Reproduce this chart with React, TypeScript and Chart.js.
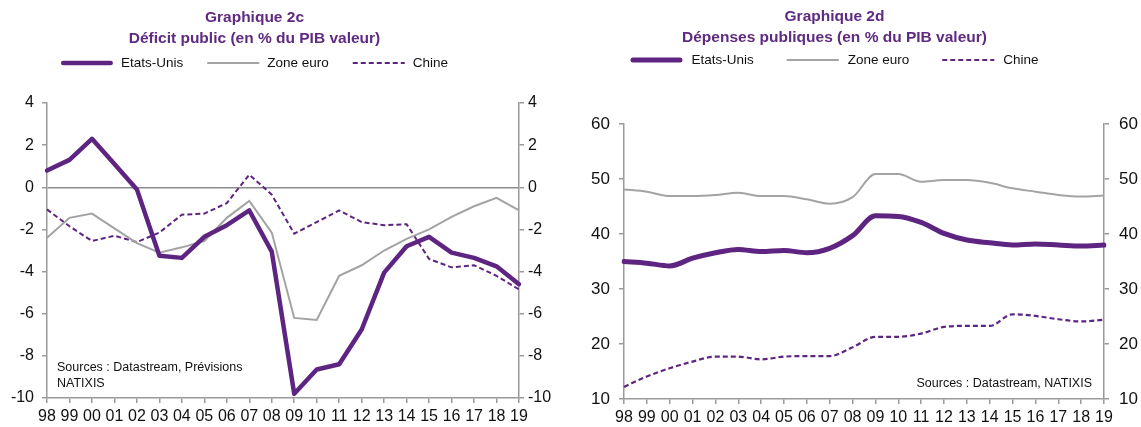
import React, { useEffect, useRef } from "react";
import { Chart, registerables } from "chart.js";

Chart.register(...registerables);

// ---------- data ----------
const years = ["98", "99", "00", "01", "02", "03", "04", "05", "06", "07", "08", "09", "10", "11", "12", "13", "14", "15", "16", "17", "18", "19"];

const seriesLabels = ["Etats-Unis", "Zone euro", "Chine"];

const deficitUS = [0.8, 1.3, 2.3, 1.1, -0.1, -3.25, -3.35, -2.35, -1.8, -1.1, -3.05, -9.8, -8.65, -8.4, -6.75, -4.05, -2.8, -2.35, -3.1, -3.35, -3.75, -4.6];
const deficitEZ = [-2.4, -1.45, -1.25, -1.95, -2.65, -3.1, -2.85, -2.55, -1.45, -0.65, -2.15, -6.2, -6.3, -4.2, -3.7, -3.0, -2.45, -2.0, -1.4, -0.9, -0.5, -1.1];
const deficitCN = [-1.05, -1.85, -2.55, -2.3, -2.6, -2.15, -1.3, -1.25, -0.75, 0.6, -0.35, -2.2, -1.65, -1.1, -1.65, -1.8, -1.75, -3.4, -3.8, -3.7, -4.2, -4.85];

const depUS = [35.0, 34.7, 34.2, 35.6, 36.6, 37.2, 36.8, 37.0, 36.6, 37.4, 39.7, 43.3, 43.2, 42.1, 40.1, 38.9, 38.4, 38.0, 38.2, 38.0, 37.8, 38.0];
const depEZ = [48.1, 47.7, 46.9, 46.9, 47.1, 47.5, 46.9, 46.9, 46.3, 45.5, 46.7, 50.9, 50.9, 49.5, 49.8, 49.8, 49.3, 48.3, 47.7, 47.1, 46.8, 47.0];
const depCN = [12.2, 14.1, 15.6, 16.8, 17.7, 17.7, 17.2, 17.7, 17.8, 17.8, 19.4, 21.3, 21.3, 21.9, 23.1, 23.3, 23.3, 25.4, 25.1, 24.5, 24.1, 24.4];

const deficitTicks = [-10, -8, -6, -4, -2, 0, 2, 4];
const depTicks = [10, 20, 30, 40, 50, 60];

const titlesLeft = ["Graphique 2c", "Déficit public (en % du PIB valeur)"];
const titlesRight = ["Graphique 2d", "Dépenses publiques (en % du PIB valeur)"];
const sourcesLeft = ["Sources : Datastream, Prévisions", "NATIXIS"];
const sourcesRight = ["Sources : Datastream, NATIXIS"];

// ---------- styles ----------
const FONT = '"Liberation Sans", Arial, sans-serif';
const PURPLE = "#5e2481";
const TITLE_PURPLE = "#5f2a82";
const GREY_LINE = "#a3a3a3";
const AXIS = "#9a9a9a";
const TEXT = "#111111";

type Decor = {
  titles: string[];
  center: number;
  titleY: number[];
  legendY: number;
  lineLen: number;
  gap: number;
  spacing: number;
  sources: string[];
  sourceX: number;
  sourceY: number[];
  sourceAlign: CanvasTextAlign;
};

function decorPlugin(cfg: Decor) {
  return {
    id: "decor",
    afterDraw(chart: any) {
      const ctx: CanvasRenderingContext2D = chart.ctx;
      ctx.save();
      // titles
      ctx.fillStyle = TITLE_PURPLE;
      ctx.font = `bold 15.5px ${FONT}`;
      ctx.textAlign = "center";
      ctx.textBaseline = "middle";
      cfg.titles.forEach((t, i) => ctx.fillText(t, cfg.center, cfg.titleY[i]));
      // legend
      ctx.font = `13.5px ${FONT}`;
      const dss = chart.data.datasets;
      const widths = dss.map((d: any) => ctx.measureText(d.label).width);
      const total =
        widths.reduce((s: number, w: number) => s + cfg.lineLen + cfg.gap + w, 0) +
        cfg.spacing * (dss.length - 1);
      let x = cfg.center - total / 2;
      dss.forEach((d: any, i: number) => {
        ctx.save();
        ctx.beginPath();
        ctx.strokeStyle = d.borderColor;
        ctx.lineWidth = d.borderWidth;
        ctx.lineCap = d.borderCapStyle || "butt";
        ctx.setLineDash(d.borderDash || []);
        const inset = ctx.lineCap === "round" ? d.borderWidth / 2 : 0;
        ctx.moveTo(x + inset, cfg.legendY);
        ctx.lineTo(x + cfg.lineLen - inset, cfg.legendY);
        ctx.stroke();
        ctx.restore();
        ctx.fillStyle = TEXT;
        ctx.textAlign = "left";
        ctx.textBaseline = "middle";
        ctx.fillText(d.label, x + cfg.lineLen + cfg.gap, cfg.legendY);
        x += cfg.lineLen + cfg.gap + widths[i] + cfg.spacing;
      });
      // sources
      ctx.font = `12.5px ${FONT}`;
      ctx.fillStyle = TEXT;
      ctx.textAlign = cfg.sourceAlign;
      cfg.sources.forEach((s, i) => ctx.fillText(s, cfg.sourceX, cfg.sourceY[i]));
      ctx.restore();
    },
  };
}

type ChartSpec = {
  us: number[];
  ez: number[];
  cn: number[];
  ticks: number[];
  smooth: boolean;
  usWidth: number;
  cnWidth: number;
  zeroLine: boolean;
  leftW: number;
  rightW: number;
  top: number;
  xH: number;
  yFont: number;
  leftPad: number;
  rightPad: number;
  decor: Decor;
};

function buildConfig(spec: ChartSpec): any {
  const min = Math.min(...spec.ticks);
  const max = Math.max(...spec.ticks);
  const step = spec.ticks[1] - spec.ticks[0];
  const curve = spec.smooth
    ? { cubicInterpolationMode: "monotone", tension: 0.4 }
    : { tension: 0 };
  const yCommon = (pos: "left" | "right", pad: number, width: number, onArea: boolean) => ({
    type: "linear",
    position: pos,
    min,
    max,
    ticks: {
      stepSize: step,
      font: { family: FONT, size: spec.yFont },
      color: TEXT,
      padding: pad,
    },
    grid: {
      drawOnChartArea: onArea,
      color: (c: any) =>
        spec.zeroLine && c.tick && c.tick.value === 0 ? "#8c8c8c" : "rgba(0,0,0,0)",
      tickColor: AXIS,
      tickLength: 5,
      lineWidth: 1.5,
    },
    border: { display: true, color: AXIS, width: 1.5 },
    afterFit: (s: any) => {
      s.width = width;
    },
  });
  return {
    type: "line",
    data: {
      labels: years,
      datasets: [
        {
          label: seriesLabels[0],
          data: spec.us,
          borderColor: PURPLE,
          backgroundColor: PURPLE,
          borderWidth: spec.usWidth,
          borderCapStyle: "round",
          borderJoinStyle: "round",
          pointRadius: 0,
          ...curve,
          yAxisID: "y",
          order: 1,
        },
        {
          label: seriesLabels[1],
          data: spec.ez,
          borderColor: GREY_LINE,
          backgroundColor: GREY_LINE,
          borderWidth: 2,
          pointRadius: 0,
          ...curve,
          yAxisID: "y",
          order: 2,
        },
        {
          label: seriesLabels[2],
          data: spec.cn,
          borderColor: PURPLE,
          backgroundColor: PURPLE,
          borderWidth: spec.cnWidth,
          borderDash: [5, 3],
          pointRadius: 0,
          ...curve,
          yAxisID: "y",
          order: 3,
        },
      ],
    },
    options: {
      responsive: false,
      animation: false,
      events: [],
      layout: { padding: { top: spec.top, left: 0, right: 0, bottom: 0 } },
      plugins: {
        legend: { display: false },
        title: { display: false },
        tooltip: { enabled: false },
      },
      scales: {
        x: {
          type: "category",
          offset: false,
          grid: {
            drawOnChartArea: false,
            drawTicks: true,
            tickLength: 5,
            color: AXIS,
            lineWidth: 1.5,
          },
          border: { display: true, color: AXIS, width: 1.5 },
          ticks: {
            autoSkip: false,
            maxRotation: 0,
            minRotation: 0,
            font: { family: FONT, size: 16 },
            color: TEXT,
            padding: 4,
          },
          afterFit: (s: any) => {
            s.height = spec.xH;
          },
        },
        y: yCommon("left", spec.leftPad, spec.leftW, true),
        y2: yCommon("right", spec.rightPad, spec.rightW, false),
      },
    },
    plugins: [decorPlugin(spec.decor)],
  };
}

const leftSpec: ChartSpec = {
  us: deficitUS,
  ez: deficitEZ,
  cn: deficitCN,
  ticks: deficitTicks,
  smooth: false,
  usWidth: 4.5,
  cnWidth: 2,
  zeroLine: true,
  leftW: 47,
  rightW: 51,
  top: 103,
  xH: 29,
  yFont: 16,
  leftPad: 8,
  rightPad: 4,
  decor: {
    titles: titlesLeft,
    center: 254.5,
    titleY: [18, 39],
    legendY: 63,
    lineLen: 52,
    gap: 8,
    spacing: 24,
    sources: sourcesLeft,
    sourceX: 57,
    sourceY: [368, 384],
    sourceAlign: "left",
  },
};

const rightSpec: ChartSpec = {
  us: depUS,
  ez: depEZ,
  cn: depCN,
  ticks: depTicks,
  smooth: true,
  usWidth: 5,
  cnWidth: 2.2,
  zeroLine: false,
  leftW: 54,
  rightW: 37,
  top: 124,
  xH: 28,
  yFont: 17,
  leftPad: 9,
  rightPad: 10,
  decor: {
    titles: titlesRight,
    center: 264.5,
    titleY: [17, 38],
    legendY: 60,
    lineLen: 52,
    gap: 9,
    spacing: 33,
    sources: sourcesRight,
    sourceX: 522,
    sourceY: [384],
    sourceAlign: "right",
  },
};

function LineChart({ spec, left, width }: { spec: ChartSpec; left: number; width: number }) {
  const ref = useRef<HTMLCanvasElement | null>(null);
  useEffect(() => {
    if (!ref.current) return;
    const chart = new Chart(ref.current, buildConfig(spec));
    return () => chart.destroy();
  }, [spec]);
  return (
    <canvas
      ref={ref}
      width={width}
      height={427}
      style={{ position: "absolute", left, top: 0, width, height: 427, display: "block" }}
    />
  );
}

export default function App() {
  return (
    <div
      style={{
        position: "fixed",
        left: 0,
        top: 0,
        width: 1141,
        height: 427,
        background: "#ffffff",
        overflow: "hidden",
      }}
    >
      <LineChart spec={leftSpec} left={0} width={570} />
      <LineChart spec={rightSpec} left={570} width={571} />
    </div>
  );
}
